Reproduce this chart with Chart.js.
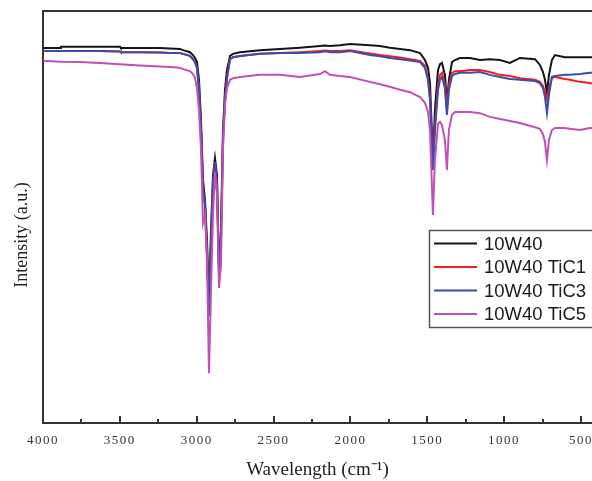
<!DOCTYPE html>
<html>
<head>
<meta charset="utf-8">
<script src="https://cdn.jsdelivr.net/npm/chart.js@4.4.1/dist/chart.umd.min.js"></script>
<style>
  html, body { margin: 0; padding: 0; background: #fff; }
</style>
</head>
<body>
<canvas id="ftirChart" width="592" height="481"></canvas>
<script>
'use strict';

// Wavenumber grid (cm-1)
const wavenumbers = [4000, 3889, 3883, 3759, 3629, 3499, 3493, 3369, 3239, 3174,
  3109, 3089, 3044, 3024, 3011, 2998, 2985, 2972, 2959, 2946,
  2933, 2920, 2907, 2894, 2881, 2868, 2855, 2842, 2829, 2816,
  2803, 2783, 2764, 2718, 2588, 2458, 2328, 2198, 2165, 2133,
  2068, 2003, 1873, 1808, 1743, 1677, 1612, 1547, 1515, 1495,
  1482, 1463, 1450, 1430, 1417, 1404, 1385, 1372, 1359, 1339,
  1320, 1287, 1222, 1157, 1092, 1027, 962, 897, 799, 767,
  747, 734, 721, 708, 689, 669, 604, 572, 507, 441,
  428];

// Intensity (a.u.) per sample
const oil10w40 = [91.0, 91.0, 91.3, 91.3, 91.3, 91.3, 91.0, 91.0, 91.0, 90.9,
  90.8, 90.5, 90.0, 89.3, 88.6, 87.6, 83.3, 73.5, 59.0, 54.1,
  44.4, 29.9, 46.8, 60.2, 64.3, 60.2, 36.0, 46.8, 71.1, 80.8,
  85.7, 89.1, 89.6, 90.0, 90.5, 90.8, 91.1, 91.5, 91.6, 91.5,
  91.7, 92.0, 91.7, 91.5, 91.1, 90.8, 90.5, 89.8, 88.1, 86.2,
  82.5, 63.8, 76.0, 85.7, 87.1, 87.4, 84.5, 77.7, 83.3, 87.6,
  88.1, 88.6, 88.6, 88.1, 88.3, 88.1, 87.4, 88.6, 88.3, 86.9,
  85.2, 83.3, 80.1, 84.5, 88.1, 89.3, 88.8, 88.8, 88.8, 88.8,
  88.8];

const oilTiC1 = [90.3, 90.3, 90.3, 90.3, 90.3, 90.2, 90.0, 90.0, 89.9, 89.8,
  89.8, 89.6, 89.1, 88.3, 87.6, 86.2, 80.8, 71.1, 56.6, 52.9,
  40.8, 26.0, 43.2, 57.8, 63.3, 57.8, 37.6, 44.4, 68.7, 78.4,
  83.7, 88.3, 88.8, 89.1, 89.6, 89.8, 90.0, 90.3, 90.4, 90.3,
  90.3, 90.5, 89.7, 89.3, 89.0, 88.7, 88.3, 87.9, 86.7, 83.7,
  78.9, 62.6, 72.3, 82.0, 84.5, 85.0, 82.0, 76.0, 82.0, 85.0,
  85.4, 85.4, 85.7, 85.7, 85.2, 84.5, 84.2, 83.7, 83.3, 82.8,
  81.8, 80.3, 78.4, 81.3, 83.7, 84.0, 83.5, 83.3, 82.8, 82.5,
  82.4];

const oilTiC3 = [90.3, 90.3, 90.3, 90.3, 90.3, 90.2, 90.0, 90.0, 89.9, 89.8,
  89.8, 89.6, 89.1, 88.3, 87.6, 86.2, 80.8, 71.1, 56.6, 52.9,
  40.8, 26.0, 43.2, 57.8, 63.3, 57.8, 37.6, 44.4, 68.7, 78.4,
  83.7, 88.3, 88.8, 89.1, 89.6, 89.8, 89.8, 90.0, 90.2, 90.0,
  90.0, 90.3, 89.3, 89.0, 88.6, 88.3, 88.0, 87.6, 86.2, 83.3,
  78.4, 61.4, 71.1, 80.8, 83.3, 84.0, 81.3, 74.8, 80.8, 84.2,
  84.7, 85.0, 85.0, 85.2, 84.5, 84.0, 83.5, 83.3, 83.0, 82.5,
  81.3, 79.1, 75.2, 79.6, 84.0, 84.2, 84.5, 84.5, 84.7, 85.0,
  85.0];

const oilTiC5 = [87.9, 87.7, 87.7, 87.6, 87.4, 87.1, 87.1, 86.8, 86.5, 86.4,
  86.2, 85.9, 85.4, 84.7, 83.7, 81.3, 76.0, 66.3, 48.5, 50.5,
  39.6, 12.1, 32.3, 50.5, 60.9, 55.3, 32.8, 38.3, 66.3, 77.2,
  81.3, 83.3, 83.7, 84.0, 84.5, 84.5, 84.0, 84.7, 85.4, 84.5,
  84.2, 84.0, 82.8, 82.2, 81.6, 80.9, 80.3, 79.1, 77.7, 75.5,
  71.1, 50.5, 63.8, 72.6, 73.1, 72.3, 68.7, 61.4, 71.1, 74.8,
  75.5, 75.5, 75.5, 75.2, 74.3, 73.8, 73.3, 72.8, 71.8, 71.4,
  70.1, 68.2, 63.8, 68.7, 71.1, 71.6, 71.6, 71.4, 71.1, 71.6,
  71.6];

const seriesLabels = ['10W40', '10W40 TiC1', '10W40 TiC3', '10W40 TiC5'];
const seriesColors = ['#141414', '#f01e24', '#3a4dae', '#c052b4'];
const seriesValues = [oil10w40, oilTiC1, oilTiC3, oilTiC5];

// Tick values
const majorTicks = [4000, 3500, 3000, 2500, 2000, 1500, 1000, 500];
const minorTicks = [3750, 3250, 2750, 2250, 1750, 1250, 750];

const yTitle = 'Intensity (a.u.)';
const axisColor = '#333';
const serif = '"Liberation Serif", "Times New Roman", serif';

// Frame top line, inward tick marks, y title and the boxed legend
const framePlugin = {
    id: 'framePlugin',
    beforeDraw(chart) {
        chart.ctx.letterSpacing = '0px';
    },
    afterDatasetsDraw(chart) {
        // the x tick labels are spaced out in the original
        chart.ctx.letterSpacing = '1.5px';
    },
    afterDraw(chart) {
        const ctx = chart.ctx;
        const area = chart.chartArea;
        const x = chart.scales.x;
        ctx.letterSpacing = '0px';
        ctx.save();
        ctx.strokeStyle = axisColor;
        ctx.lineWidth = 2;
        ctx.beginPath();
        ctx.moveTo(area.left - 1, area.top);
        ctx.lineTo(area.right, area.top);
        ctx.stroke();

        majorTicks.forEach(v => {
            const px = Math.round(x.getPixelForValue(v));
            ctx.beginPath();
            ctx.moveTo(px, area.bottom);
            ctx.lineTo(px, area.bottom - 7);
            ctx.stroke();
        });
        minorTicks.forEach(v => {
            const px = Math.round(x.getPixelForValue(v));
            ctx.beginPath();
            ctx.moveTo(px, area.bottom);
            ctx.lineTo(px, area.bottom - 4);
            ctx.stroke();
        });

        // y axis title, sits a bit below the middle in the original
        ctx.save();
        ctx.translate(22, 235);
        ctx.rotate(-Math.PI / 2);
        ctx.font = '18px ' + serif;
        ctx.fillStyle = '#222';
        ctx.textAlign = 'center';
        ctx.textBaseline = 'middle';
        ctx.fillText(yTitle, 0, 0);
        ctx.restore();

        // legend
        ctx.fillStyle = '#fff';
        ctx.fillRect(430, 231, 170, 96);
        ctx.strokeStyle = '#555';
        ctx.lineWidth = 1.5;
        ctx.strokeRect(429.5, 230.5, 180, 97);
        ctx.font = '18.5px "Liberation Sans", Arial, sans-serif';
        ctx.textBaseline = 'middle';
        seriesLabels.forEach((label, i) => {
            const y = 243.5 + i * 23.5;
            ctx.strokeStyle = seriesColors[i];
            ctx.lineWidth = 2;
            ctx.beginPath();
            ctx.moveTo(434, y);
            ctx.lineTo(477, y);
            ctx.stroke();
            ctx.fillStyle = '#1a1a1a';
            ctx.fillText(label, 484, y + 1);
        });
        ctx.restore();
    }
};

const ctx = document.getElementById('ftirChart').getContext('2d');

new Chart(ctx, {
    type: 'line',
    data: {
        datasets: seriesLabels.map((label, i) => ({
            label: label,
            data: wavenumbers.map((w, j) => ({ x: w, y: seriesValues[i][j] })),
            borderColor: seriesColors[i],
            borderWidth: 2,
            pointRadius: 0,
            tension: 0,
            fill: false,
            order: 4 - i
        }))
    },
    options: {
        responsive: false,
        animation: false,
        devicePixelRatio: 1,
        layout: { padding: { top: 11, right: 0, left: 0, bottom: 0 } },
        plugins: {
            legend: { display: false },
            tooltip: { enabled: false }
        },
        scales: {
            x: {
                type: 'linear',
                reverse: true,
                min: 428,
                max: 4000,
                afterBuildTicks: scale => {
                    scale.ticks = majorTicks.map(v => ({ value: v }));
                },
                afterFit: scale => {
                    scale.height = 58;
                    scale.paddingLeft = 0;
                    scale.paddingRight = 0;
                },
                grid: { display: false, drawTicks: false },
                border: { display: true, color: axisColor, width: 2 },
                ticks: {
                    autoSkip: false,
                    maxRotation: 0,
                    padding: 10,
                    color: '#333',
                    callback: v => String(v),
                    font: { family: serif, size: 13 },
                    z: 1
                },
                title: {
                    display: true,
                    text: 'Wavelength (cm⁻¹)',
                    color: '#222',
                    font: { family: serif, size: 19 },
                    padding: { top: 0, bottom: 0 }
                }
            },
            y: {
                min: 0,
                max: 100,
                afterFit: scale => {
                    scale.width = 43;
                },
                grid: { display: false, drawTicks: false },
                border: { display: true, color: axisColor, width: 2 },
                ticks: { display: false },
                title: { display: false }
            }
        }
    },
    plugins: [framePlugin]
});
</script>
</body>
</html>
